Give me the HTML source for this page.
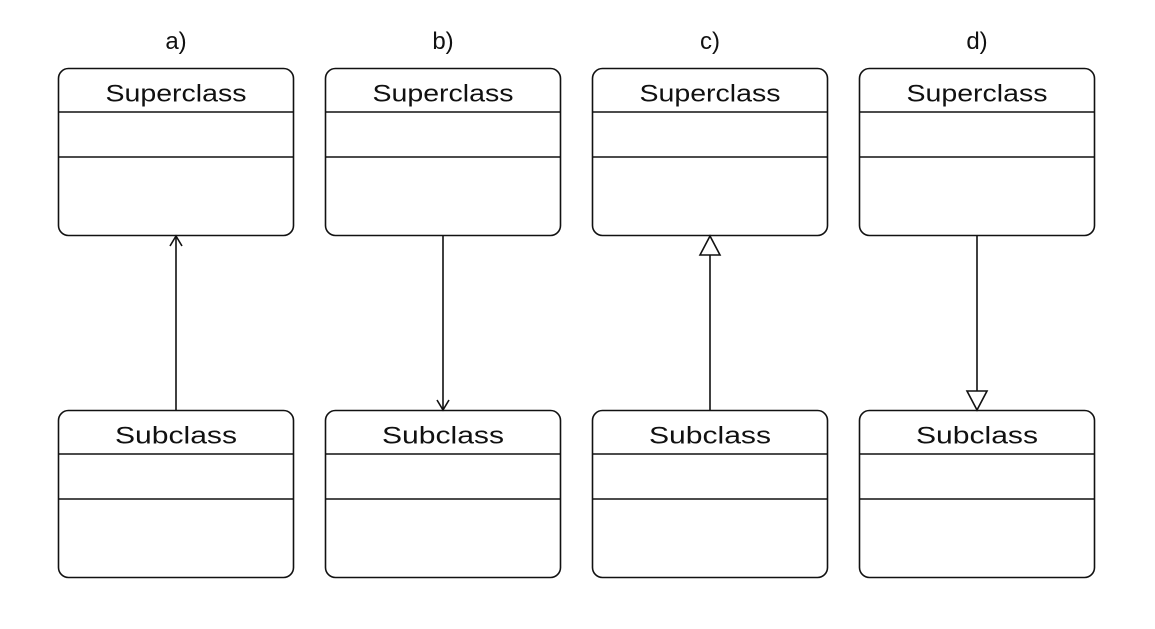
<!DOCTYPE html>
<html><head><meta charset="utf-8"><style>
html,body{margin:0;padding:0;background:#fff}
svg{display:block}
text{font-family:"Liberation Sans",sans-serif;font-weight:normal;fill:#111}
</style></head><body>
<svg width="1155" height="629" viewBox="0 0 1155 629" xmlns="http://www.w3.org/2000/svg">
<g id="diagram" stroke="#111" stroke-width="1.6" fill="none"></g>
</svg>
<script>
const panels = ["a)","b)","c)","d)"];
const lefts = [58.5, 325.5, 592.5, 859.5];
const W = 235;
const svg = document.querySelector('svg');
const g = document.getElementById('diagram');
const NS = 'http://www.w3.org/2000/svg';
function mk(tag, attrs, parent){const e=document.createElementNS(NS,tag);for(const k in attrs)e.setAttribute(k,attrs[k]);(parent||g).appendChild(e);return e;}
function box(x,y,name,label){
  const grp=mk('g',{});
  
  
  mk('rect',{x:x,y:y,width:W,height:167,rx:10,ry:10},grp);
  mk('line',{x1:x,y1:y+43.5,x2:x+W,y2:y+43.5},grp);
  mk('line',{x1:x,y1:y+88.5,x2:x+W,y2:y+88.5},grp);
  const t=mk('text',{x:x+W/2,y:y+33,'text-anchor':'middle','font-size':'24',stroke:'none',textLength:name==='Superclass'?141:122,lengthAdjust:'spacingAndGlyphs'},grp);
  t.textContent=name;
}
panels.forEach((p,i)=>{
  const x=lefts[i], cx=x+W/2;
  const lab=mk('text',{x:cx,y:49,'text-anchor':'middle','font-size':'24',stroke:'none'});
  
  
  lab.textContent=p;
  box(x,68.5,'Superclass','superclass-'+p[0]);
  box(x,410.5,'Subclass','subclass-'+p[0]);
  const arr=mk('g',{});
  
  
  const top=236, bot=410;
  if(i===0){
    mk('line',{x1:cx,y1:top,x2:cx,y2:bot},arr);
    mk('polyline',{points:`${cx-6},${top+10} ${cx},${top} ${cx+6},${top+10}`},arr);
  } else if(i===1){
    mk('line',{x1:cx,y1:top,x2:cx,y2:bot},arr);
    mk('polyline',{points:`${cx-6},${bot-10} ${cx},${bot} ${cx+6},${bot-10}`},arr);
  } else if(i===2){
    mk('line',{x1:cx,y1:top+19,x2:cx,y2:bot},arr);
    mk('polygon',{points:`${cx},${top} ${cx-10},${top+19} ${cx+10},${top+19}`,fill:'#fff'},arr);
  } else {
    mk('line',{x1:cx,y1:top,x2:cx,y2:bot-19},arr);
    mk('polygon',{points:`${cx},${bot} ${cx-10},${bot-19} ${cx+10},${bot-19}`,fill:'#fff'},arr);
  }
});
</script>
</body></html>
